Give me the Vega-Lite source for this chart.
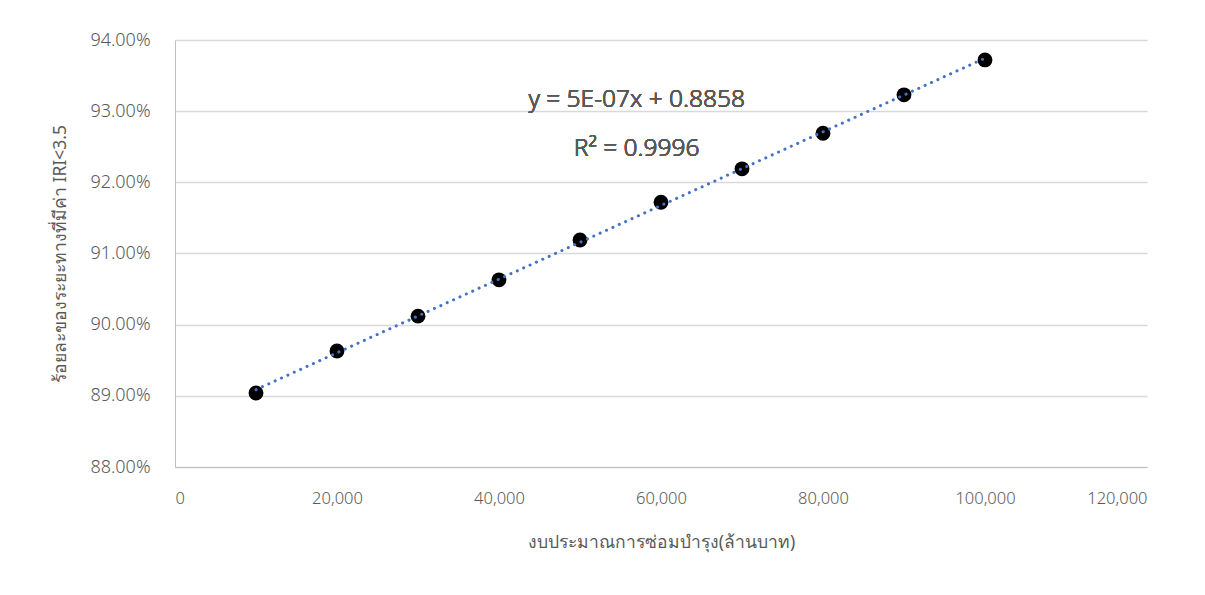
{
  "$schema": "https://vega.github.io/schema/vega-lite/v6.json",
  "autosize": "none",
  "width": 972,
  "height": 427,
  "padding": {"left": 175, "top": 40, "right": 58, "bottom": 128},
  "background": "white",
  "config": {
    "view": {"stroke": null},
    "font": "Noto Sans",
    "axis": {"labelColor": "#595959", "titleColor": "#595959", "labelFont": "Noto Sans", "titleFont": "Noto Sans", "titleFontWeight": "normal", "labelFontWeight": 300}
  },
  "data": {
    "values": [
      {"budget": 10000, "pct": 0.8904},
      {"budget": 20000, "pct": 0.8963},
      {"budget": 30000, "pct": 0.9012},
      {"budget": 40000, "pct": 0.9063},
      {"budget": 50000, "pct": 0.9119},
      {"budget": 60000, "pct": 0.9172},
      {"budget": 70000, "pct": 0.9219},
      {"budget": 80000, "pct": 0.9269},
      {"budget": 90000, "pct": 0.9323},
      {"budget": 100000, "pct": 0.9372}
    ]
  },
  "layer": [
    {
      "mark": {"type": "point", "filled": true, "color": "#000000", "size": 220, "opacity": 1},
      "encoding": {
        "x": {
          "field": "budget", "type": "quantitative",
          "scale": {"domain": [0, 120000], "nice": false, "zero": false},
          "axis": {
            "values": [0, 20000, 40000, 60000, 80000, 100000, 120000],
            "format": ",d",
            "grid": false, "ticks": false,
            "domainColor": "#bfbfbf", "domainWidth": 1,
            "labelFontSize": 16.5, "labelPadding": 23,
            "title": "งบประมาณการซ่อมบำรุง(ล้านบาท)",
            "titleFontSize": 17.5, "titlePadding": 27
          }
        },
        "y": {
          "field": "pct", "type": "quantitative",
          "scale": {"domain": [0.88, 0.94], "nice": false, "zero": false},
          "axis": {
            "values": [0.88, 0.89, 0.90, 0.91, 0.92, 0.93, 0.94],
            "format": ".2%",
            "grid": true, "gridColor": "#d9d9d9", "gridWidth": 1.3,
            "ticks": false,
            "domainColor": "#bfbfbf", "domainWidth": 1,
            "labelFontSize": 18, "labelPadding": 25,
            "title": "ร้อยละของระยะทางที่มีค่า IRI<3.5",
            "titleFontSize": 17.5, "titlePadding": 20
          }
        }
      }
    },
    {
      "transform": [{"regression": "pct", "on": "budget", "method": "linear", "extent": [10000, 100000]}],
      "mark": {"type": "line", "color": "#4472c4", "strokeWidth": 3, "strokeCap": "round", "strokeDash": [0.1, 6.9]},
      "encoding": {
        "x": {"field": "budget", "type": "quantitative"},
        "y": {"field": "pct", "type": "quantitative"}
      }
    },
    {
      "mark": {"type": "text", "fontSize": 24.5, "color": "#595959", "align": "center", "baseline": "middle", "font": "Noto Sans", "fontWeight": 300},
      "encoding": {
        "x": {"datum": 57000, "type": "quantitative"},
        "y": {"datum": 0.93157, "type": "quantitative"},
        "text": {"value": "y = 5E-07x + 0.8858"}
      }
    },
    {
      "mark": {"type": "text", "fontSize": 24.5, "color": "#595959", "align": "center", "baseline": "middle", "font": "Noto Sans", "fontWeight": 300},
      "encoding": {
        "x": {"datum": 57000, "type": "quantitative"},
        "y": {"datum": 0.9247, "type": "quantitative"},
        "text": {"value": "R² = 0.9996"}
      }
    }
  ]
}
